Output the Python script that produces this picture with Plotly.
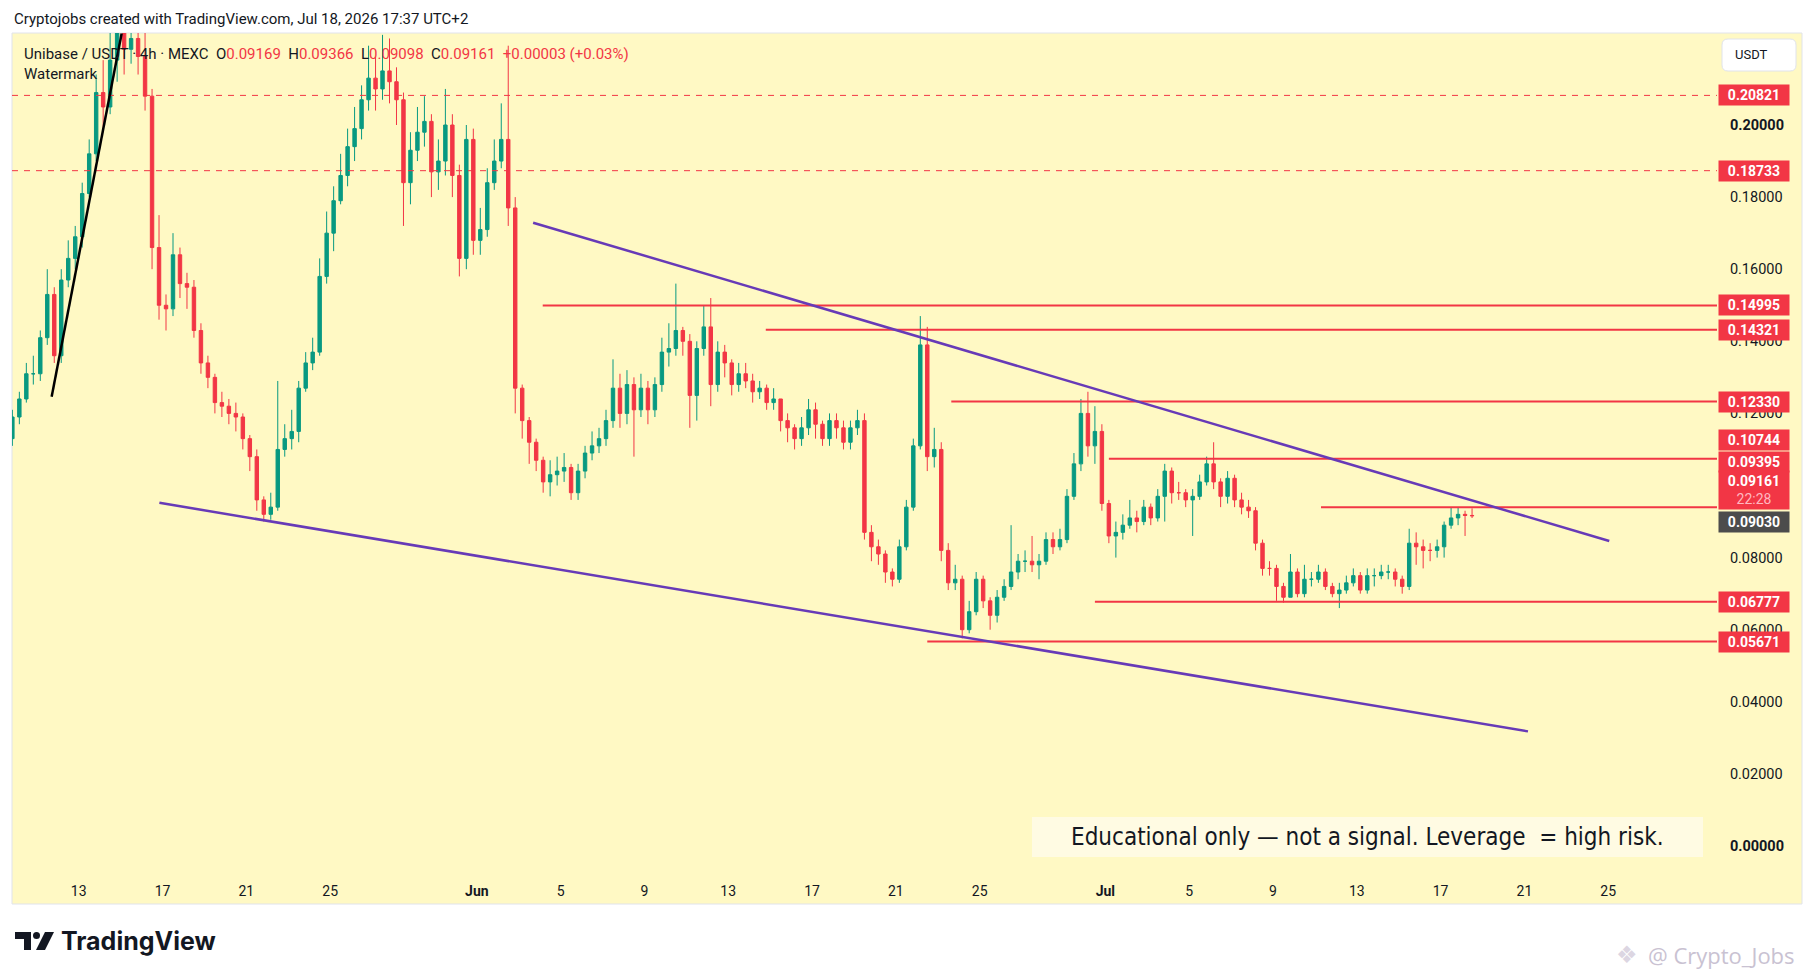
import pandas as pd
import plotly.graph_objects as go

# ---- price data: 8h candles (Unibase / USDT, MEXC) ----
candle_start = "2026-05-09 20:00"
first_open = 0.113

closes = [
    0.119,
    0.124, 0.131, 0.131,  0.141, 0.153, 0.136,  0.157, 0.163, 0.169,
    0.181, 0.192, 0.209,  0.205, 0.218, 0.226,  0.221, 0.224, 0.219,
    0.208, 0.166, 0.150,  0.149, 0.164, 0.156,  0.155, 0.143, 0.134,
    0.130, 0.123, 0.122,  0.120, 0.119, 0.113,  0.108, 0.096, 0.092,
    0.094, 0.110, 0.113,  0.115, 0.127, 0.134,  0.137, 0.158, 0.170,
    0.179, 0.186, 0.194,  0.199, 0.207, 0.213,  0.210, 0.215, 0.212,
    0.207, 0.184, 0.193,  0.198, 0.201, 0.187,  0.190, 0.200, 0.186,
    0.163, 0.196, 0.168,
    0.171, 0.184, 0.190,  0.196, 0.177, 0.127,  0.118, 0.112, 0.107,
    0.101, 0.103, 0.104,  0.105, 0.098, 0.104,  0.109, 0.111, 0.113,
    0.118, 0.127, 0.120,  0.128, 0.121, 0.127,  0.121, 0.128, 0.137,
    0.138, 0.143, 0.140,  0.125, 0.138, 0.144,  0.128, 0.137, 0.134,
    0.128, 0.131, 0.129,  0.126, 0.127, 0.123,  0.124, 0.118, 0.116,
    0.113, 0.116, 0.121,  0.117, 0.113, 0.118,  0.116, 0.112, 0.116,
    0.118, 0.087, 0.083,  0.081, 0.076, 0.074,  0.083, 0.094, 0.111,
    0.139, 0.108, 0.110,  0.082, 0.073, 0.074,  0.060, 0.065, 0.074,
    0.068, 0.064, 0.069,  0.072, 0.076, 0.079,  0.079, 0.078, 0.079,
    0.085, 0.083, 0.085,  0.097, 0.106, 0.120,  0.111, 0.115, 0.095,
    0.086, 0.087, 0.089,  0.091, 0.090, 0.094,  0.091, 0.097, 0.104,
    0.098, 0.098, 0.096,  0.097, 0.101, 0.106,  0.101, 0.097, 0.102,
    0.096, 0.094, 0.093,  0.084, 0.077, 0.077,  0.072, 0.069, 0.076,
    0.070, 0.074, 0.074,  0.076, 0.072, 0.070,  0.071, 0.073, 0.075,
    0.071, 0.075, 0.075,  0.076, 0.076, 0.074,  0.072, 0.084, 0.083,
    0.082, 0.082, 0.083,  0.089, 0.091, 0.092,
    0.09169, 0.09161,
]

highs = [
    0.121,
    0.126, 0.134, 0.136,  0.143, 0.160, 0.155,  0.160, 0.168, 0.172,
    0.184, 0.196, 0.214,  0.218, 0.232, 0.238,  0.236, 0.234, 0.230,
    0.226, 0.210, 0.175,  0.153, 0.170, 0.166,  0.159, 0.157, 0.145,
    0.136, 0.131, 0.126,  0.124, 0.123, 0.120,  0.114, 0.110, 0.097,
    0.098, 0.129, 0.117,  0.121, 0.129, 0.137,  0.141, 0.163, 0.176,
    0.183, 0.192, 0.199,  0.205, 0.211, 0.222,  0.219, 0.225, 0.224,
    0.216, 0.209, 0.198,  0.205, 0.208, 0.203,  0.196, 0.210, 0.203,
    0.189, 0.200, 0.199,
    0.177, 0.188, 0.196,  0.206, 0.222, 0.180,  0.128, 0.119, 0.113,
    0.108, 0.107, 0.108,  0.109, 0.106, 0.106,  0.111, 0.115, 0.116,
    0.121, 0.135, 0.131,  0.132, 0.130, 0.131,  0.129, 0.130, 0.141,
    0.145, 0.156, 0.144,  0.142, 0.140, 0.150,  0.152, 0.140, 0.139,
    0.135, 0.134, 0.134,  0.131, 0.129, 0.128,  0.127, 0.124, 0.120,
    0.117, 0.119, 0.124,  0.123, 0.118, 0.120,  0.120, 0.118, 0.118,
    0.121, 0.120, 0.089,  0.085, 0.082, 0.077,  0.085, 0.096, 0.113,
    0.147, 0.144, 0.116,  0.112, 0.084, 0.078,  0.075, 0.068, 0.076,
    0.075, 0.069, 0.071,  0.074, 0.089, 0.081,  0.082, 0.086, 0.081,
    0.087, 0.087, 0.088,  0.099, 0.109, 0.124,  0.126, 0.122, 0.117,
    0.096, 0.090, 0.092,  0.096, 0.093, 0.096,  0.095, 0.099, 0.106,
    0.105, 0.101, 0.099,  0.099, 0.103, 0.108,  0.112, 0.102, 0.104,
    0.103, 0.098, 0.096,  0.094, 0.085, 0.079,  0.078, 0.073, 0.081,
    0.077, 0.078, 0.076,  0.078, 0.077, 0.073,  0.073, 0.075, 0.077,
    0.076, 0.077, 0.077,  0.078, 0.078, 0.077,  0.075, 0.088, 0.087,
    0.085, 0.084, 0.085,  0.090, 0.094, 0.094,
    0.093, 0.09366,
]

lows = [
    0.111,
    0.117, 0.123, 0.128,  0.129, 0.139, 0.134,  0.134, 0.155, 0.160,
    0.166, 0.180, 0.190,  0.198, 0.203, 0.212,  0.214, 0.217, 0.214,
    0.204, 0.160, 0.146,  0.143, 0.147, 0.152,  0.149, 0.141, 0.131,
    0.127, 0.120, 0.119,  0.117, 0.115, 0.110,  0.104, 0.093, 0.090,
    0.0905, 0.093, 0.108, 0.110, 0.112, 0.126,  0.132, 0.136, 0.156,
    0.165, 0.178, 0.183,  0.190, 0.196, 0.204,  0.204, 0.207, 0.206,
    0.200, 0.172, 0.178,  0.190, 0.194, 0.180,  0.182, 0.186, 0.180,
    0.158, 0.160, 0.164,
    0.164, 0.169, 0.182,  0.188, 0.172, 0.120,  0.113, 0.106, 0.104,
    0.098, 0.097, 0.100,  0.101, 0.096, 0.096,  0.102, 0.107, 0.109,
    0.111, 0.116, 0.116,  0.117, 0.108, 0.119,  0.117, 0.119, 0.126,
    0.133, 0.136, 0.136,  0.116, 0.118, 0.136,  0.122, 0.126, 0.130,
    0.125, 0.126, 0.127,  0.123, 0.124, 0.121,  0.121, 0.115, 0.112,
    0.110, 0.111, 0.114,  0.113, 0.111, 0.111,  0.113, 0.110, 0.110,
    0.114, 0.085, 0.079,  0.078, 0.073, 0.072,  0.073, 0.082, 0.093,
    0.110, 0.104, 0.105,  0.079, 0.071, 0.071,  0.0576, 0.059, 0.064,
    0.066, 0.060, 0.062,  0.068, 0.071, 0.074,  0.076, 0.076, 0.074,
    0.078, 0.081, 0.082,  0.084, 0.096, 0.104,  0.108, 0.106, 0.093,
    0.084, 0.080, 0.085,  0.088, 0.087, 0.089,  0.089, 0.090, 0.090,
    0.095, 0.096, 0.094,  0.086, 0.096, 0.100,  0.099, 0.094, 0.095,
    0.094, 0.092, 0.091,  0.082, 0.075, 0.075,  0.068, 0.0675, 0.069,
    0.069, 0.069, 0.072,  0.073, 0.071, 0.069,  0.066, 0.070, 0.072,
    0.070, 0.070, 0.072,  0.074, 0.074, 0.072,  0.070, 0.071, 0.078,
    0.077, 0.079, 0.080,  0.080, 0.088, 0.089,
    0.086, 0.09098,
]

# horizontal levels drawn on the chart (None = from the left edge)
levels = [0.20821, 0.18733, 0.14995, 0.14321, 0.12330,
          0.10744, 0.09395, 0.06777, 0.05671]
level_start = [None, None, "2026-06-04 03:30", "2026-06-14 19:00",
               "2026-06-23 15:30", "2026-07-01 04:00", "2026-07-11 07:00",
               "2026-06-30 12:00", "2026-06-22 12:00"]
level_dashed = [True, True, False, False, False, False, False, False, False]

# trend lines
upper_x = ["2026-06-03 16:30", "2026-07-25 01:10"]
upper_y = [0.1729, 0.0846]
lower_x = ["2026-05-16 20:25", "2026-07-21 04:05"]
lower_y = [0.0952, 0.0318]
impulse_x = ["2026-05-11 17:00", "2026-05-15 01:10"]
impulse_y = [0.1246, 0.2254]

last_price = 0.09161
countdown = "22:28"
ref_price = 0.09030

date_ticks = ["2026-05-13", "2026-05-17", "2026-05-21", "2026-05-25",
              "2026-06-01", "2026-06-05", "2026-06-09", "2026-06-13",
              "2026-06-17", "2026-06-21", "2026-06-25", "2026-07-01",
              "2026-07-05", "2026-07-09", "2026-07-13", "2026-07-17",
              "2026-07-21", "2026-07-25"]
date_labels = ["13", "17", "21", "25", "<b>Jun</b>", "5", "9", "13", "17",
               "21", "25", "<b>Jul</b>", "5", "9", "13", "17", "21", "25"]
price_ticks = [0.0, 0.02, 0.04, 0.06, 0.08, 0.10, 0.12, 0.14, 0.16, 0.18, 0.20]

# ---- styling ----
# pixel positions below are page pixels; the page body adds an 8px margin
OFF = 8
W, H = 1815 - OFF, 980 - OFF
PL, PR, PT, PB = 12, 1717, 33, 872
X_RANGE = ["2026-05-09 19:35", "2026-07-30 04:35"]
Y_RANGE = [-0.00721, 0.22552]

BG = "#fff9c4"
RED = "#f23645"
GREEN = "#089981"
PURPLE = "#673ab7"
TEXT = "#131722"
FONT = "Roboto, 'Noto Sans', sans-serif"


def px_x(px):
    return (px - PL) / (PR - PL)


def px_y(py):
    return (PB - py) / (PB - PT)


times = pd.date_range(candle_start, periods=len(closes), freq="8h")
opens = [first_open] + closes[:-1]

fig = go.Figure()

fig.add_trace(go.Candlestick(
    x=times, open=opens, high=highs, low=lows, close=closes,
    increasing=dict(line=dict(color=GREEN, width=1), fillcolor=GREEN),
    decreasing=dict(line=dict(color=RED, width=1), fillcolor=RED),
    whiskerwidth=0, hoverinfo="skip",
))

for lvl, start, dashed in zip(levels, level_start, level_dashed):
    fig.add_trace(go.Scatter(
        x=[start or X_RANGE[0], X_RANGE[1]], y=[lvl, lvl], mode="lines",
        line=dict(color=RED, width=1 if dashed else 2,
                  dash="6px,6px" if dashed else "solid"),
        hoverinfo="skip",
    ))

for xs, ys, col in [(upper_x, upper_y, PURPLE), (lower_x, lower_y, PURPLE),
                    (impulse_x, impulse_y, "#000000")]:
    fig.add_trace(go.Scatter(x=xs, y=ys, mode="lines",
                             line=dict(color=col, width=2.5), hoverinfo="skip"))


def poly(pts):
    return "M " + " L ".join(f"{px_x(a)},{px_y(b)}" for a, b in pts) + " Z"


def round_rect(x0, y0, x1, y1, r):
    p = lambda a, b: f"{px_x(a)},{px_y(b)}"
    return (f"M {p(x0 + r, y0)} L {p(x1 - r, y0)} Q {p(x1, y0)} {p(x1, y0 + r)} "
            f"L {p(x1, y1 - r)} Q {p(x1, y1)} {p(x1 - r, y1)} "
            f"L {p(x0 + r, y1)} Q {p(x0, y1)} {p(x0, y1 - r)} "
            f"L {p(x0, y0 + r)} Q {p(x0, y0)} {p(x0 + r, y0)} Z")


shapes = [
    # chart panel
    dict(type="rect", xref="paper", yref="paper", layer="below",
         x0=px_x(12), x1=px_x(1802), y0=px_y(904), y1=px_y(33),
         fillcolor=BG, line=dict(color="#e0e3eb", width=1)),
    # note box
    dict(type="rect", xref="paper", yref="paper", layer="below",
         x0=px_x(1032), x1=px_x(1703), y0=px_y(857), y1=px_y(817),
         fillcolor="#fffbe3", line=dict(width=0)),
    # currency button
    dict(type="path", xref="paper", yref="paper",
         path=round_rect(1722, 39, 1796, 71, 6),
         fillcolor="#ffffff", line=dict(color="#e0e3eb", width=1)),
    # TradingView logo mark
    dict(type="path", xref="paper", yref="paper", fillcolor=TEXT, line=dict(width=0),
         path=poly([(15, 932), (31, 932), (31, 950), (24, 950), (24, 939), (15, 939)])),
    dict(type="circle", xref="paper", yref="paper", fillcolor=TEXT, line=dict(width=0),
         x0=px_x(33), x1=px_x(40), y0=px_y(939), y1=px_y(932)),
    dict(type="path", xref="paper", yref="paper", fillcolor=TEXT, line=dict(width=0),
         path=poly([(45, 932), (54, 932), (45, 950), (36, 950)])),
]

red_nums = "<span style='color:%s'>" % RED
legend_txt = ("Unibase / USDT · 4h · MEXC\u00a0\u00a0"
              f"O{red_nums}0.09169</span>\u00a0\u00a0H{red_nums}0.09366</span>\u00a0\u00a0"
              f"L{red_nums}0.09098</span>\u00a0\u00a0C{red_nums}0.09161</span>\u00a0\u00a0"
              f"{red_nums}+0.00003 (+0.03%)</span>")

annotations = [
    dict(text="Cryptojobs created with TradingView.com, Jul 18, 2026 17:37 UTC+2",
         x=px_x(12), y=px_y(19), xanchor="left", yanchor="middle",
         font=dict(size=15, color=TEXT)),
    dict(text=legend_txt, x=px_x(22), y=px_y(54), xanchor="left", yanchor="middle",
         font=dict(size=15, color=TEXT)),
    dict(text="Watermark", x=px_x(22), y=px_y(74), xanchor="left", yanchor="middle",
         font=dict(size=15, color=TEXT)),
    dict(text="USDT", x=px_x(1733), y=px_y(55), xanchor="left", yanchor="middle",
         font=dict(size=13, color=TEXT)),
    dict(text="Educational only \u2014 not a signal. Leverage\u00a0\u00a0= high risk.",
         x=px_x(1367), y=px_y(837), xanchor="center", yanchor="middle",
         font=dict(size=24, color=TEXT,
                   family="'DejaVu Sans Condensed', 'Liberation Sans Narrow', Roboto")),
    dict(text="<b>TradingView</b>", x=px_x(59), y=px_y(941), xanchor="left",
         yanchor="middle", font=dict(size=25, color=TEXT, family="Inter, Roboto")),
    dict(text="\u2756", x=px_x(1614), y=px_y(955), xanchor="left", yanchor="middle",
         font=dict(size=24, color="#dcd6e2", family="DejaVu Sans")),
    dict(text="@ Crypto_Jobs", x=px_x(1646), y=px_y(955), xanchor="left",
         yanchor="middle", font=dict(size=22, color="#c9c2d2", family="'Open Sans'")),
]
for a in annotations:
    a.update(xref="paper", yref="paper", showarrow=False)

# price scale labels (stacked ones pushed up as on the chart)
label_shift = {0.10744: 19, 0.09395: 45.5}
for lvl in levels:
    annotations.append(dict(
        text=f"<b>{lvl:.5f}</b>", xref="paper", x=px_x(1718), xanchor="left",
        yref="y", y=lvl, yanchor="middle", yshift=label_shift.get(lvl, 0),
        showarrow=False, bgcolor=RED, width=66, height=16, borderpad=2,
        font=dict(size=14, color="#ffffff")))
annotations.append(dict(
    text=f"<b>{last_price:.5f}</b><br><span style='color:#ffb8c0'>{countdown}</span>",
    xref="paper", x=px_x(1718), xanchor="left", yref="y", y=last_price,
    yanchor="middle", yshift=25.5, showarrow=False, bgcolor=RED, width=66,
    height=34, borderpad=2, font=dict(size=14, color="#ffffff")))
annotations.append(dict(
    text=f"<b>{ref_price:.5f}</b>", xref="paper", x=px_x(1718), xanchor="left",
    yref="y", y=ref_price, yanchor="middle", yshift=-1.5, showarrow=False,
    bgcolor="#4c4c4c", width=66, height=16, borderpad=2,
    font=dict(size=14, color="#ffffff")))

price_text = [f"<b>{v:.5f}</b>" if v in (0.0, 0.20) else f"{v:.5f}" for v in price_ticks]

fig.update_layout(
    width=W, height=H,
    margin=dict(l=PL - OFF, r=W - (PR - OFF), t=PT - OFF, b=H - (PB - OFF), pad=0),
    paper_bgcolor="#ffffff", plot_bgcolor=BG,
    showlegend=False,
    font=dict(family=FONT, color=TEXT, size=14),
    shapes=shapes, annotations=annotations,
    xaxis=dict(type="date", range=X_RANGE, rangeslider=dict(visible=False),
               showgrid=False, zeroline=False, showline=False,
               tickvals=date_ticks, ticktext=date_labels,
               ticks="outside", ticklen=6, tickcolor="rgba(0,0,0,0)",
               tickfont=dict(size=14, color=TEXT)),
    yaxis=dict(side="right", range=Y_RANGE, showgrid=False, zeroline=False,
               showline=False, tickvals=price_ticks, ticktext=price_text,
               ticks="outside", ticklen=9, tickcolor="rgba(0,0,0,0)",
               tickfont=dict(size=14.5, color=TEXT)),
)

fig.write_html("out.html")
